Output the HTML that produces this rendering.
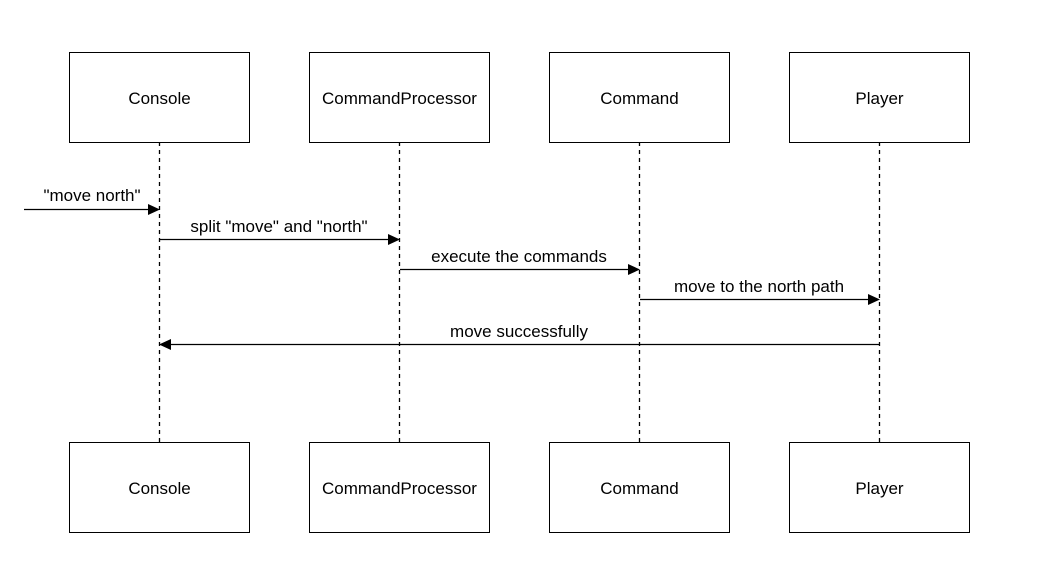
<!DOCTYPE html>
<html><head><meta charset="utf-8"><style>body{margin:0;background:#fff}svg{display:block}text{font-family:"Liberation Sans",Arial,sans-serif;font-size:17px;fill:#000}</style></head><body>
<svg width="1041" height="576" viewBox="0 0 1041 576" xmlns="http://www.w3.org/2000/svg">
<rect width="1041" height="576" fill="#fff"/>
<g stroke="#000" stroke-width="1.3" stroke-dasharray="4,4">
<line x1="159.5" y1="142" x2="159.5" y2="442"/>
<line x1="399.5" y1="142" x2="399.5" y2="442"/>
<line x1="639.5" y1="142" x2="639.5" y2="442"/>
<line x1="879.5" y1="142" x2="879.5" y2="442"/>
</g>
<g fill="#fff" stroke="#000" stroke-width="1">
<rect x="69.5" y="52.5" width="180" height="90"/>
<rect x="309.5" y="52.5" width="180" height="90"/>
<rect x="549.5" y="52.5" width="180" height="90"/>
<rect x="789.5" y="52.5" width="180" height="90"/>
<rect x="69.5" y="442.5" width="180" height="90"/>
<rect x="309.5" y="442.5" width="180" height="90"/>
<rect x="549.5" y="442.5" width="180" height="90"/>
<rect x="789.5" y="442.5" width="180" height="90"/>
</g>
<g text-anchor="middle">
<text x="159.5" y="104">Console</text>
<text x="399.5" y="104">CommandProcessor</text>
<text x="639.5" y="104">Command</text>
<text x="879.5" y="104">Player</text>
<text x="159.5" y="494">Console</text>
<text x="399.5" y="494">CommandProcessor</text>
<text x="639.5" y="494">Command</text>
<text x="879.5" y="494">Player</text>
<text x="92" y="201">"move north"</text>
<text x="279" y="232">split "move" and "north"</text>
<text x="519" y="262">execute the commands</text>
<text x="759" y="292">move to the north path</text>
<text x="519" y="337">move successfully</text>
</g>
<g stroke="#000" stroke-width="1.3">
<line x1="24" y1="209.5" x2="150" y2="209.5"/>
<line x1="160" y1="239.5" x2="390" y2="239.5"/>
<line x1="400" y1="269.5" x2="630" y2="269.5"/>
<line x1="640" y1="299.5" x2="870" y2="299.5"/>
<line x1="879" y1="344.5" x2="169" y2="344.5"/>
</g>
<g fill="#000">
<polygon points="160,209.5 148,204 148,215"/>
<polygon points="400,239.5 388,234 388,245"/>
<polygon points="640,269.5 628,264 628,275"/>
<polygon points="880,299.5 868,294 868,305"/>
<polygon points="159,344.5 171,339 171,350"/>
</g>
</svg>
</body></html>
